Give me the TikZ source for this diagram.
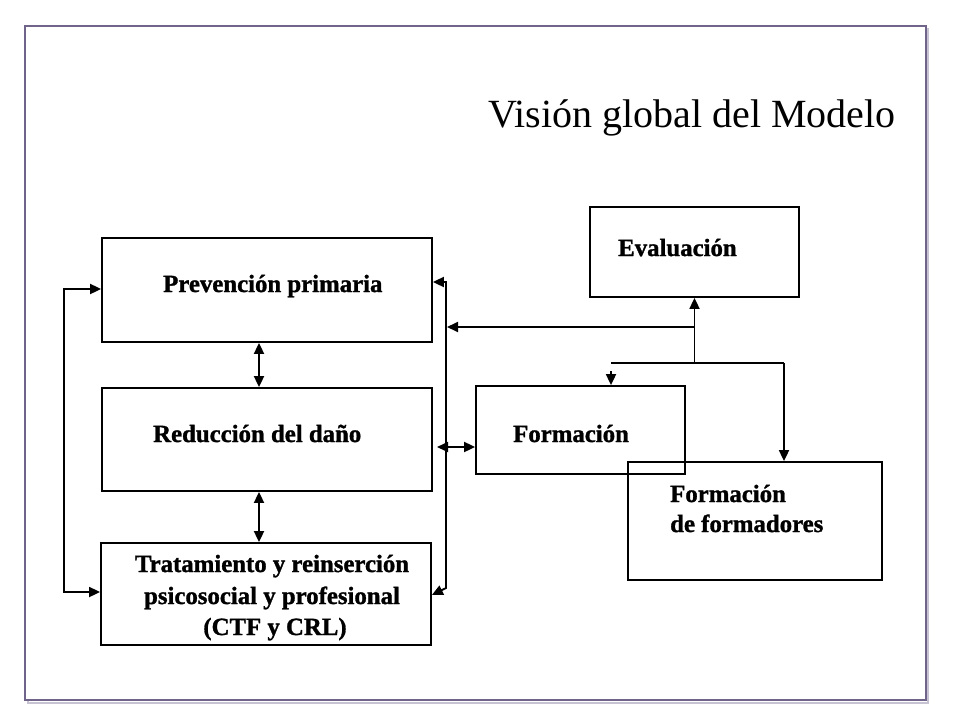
\documentclass[tikz,border=0pt]{standalone}
\usepackage{fontspec}
\setmainfont[BoldFeatures={FakeBold=1.2}]{Liberation Serif}
\usetikzlibrary{arrows.meta}
\definecolor{framecol}{RGB}{112,100,138}
\definecolor{shadowcol}{RGB}{200,195,210}
\tikzset{
  boxnode/.style={draw=black, line width=1.8pt, inner sep=0pt, minimum width=#1},
  lbl/.style={font=\fontsize{24.8}{30}\selectfont\bfseries, inner sep=0pt},
  conn/.style={line width=1.8pt, black, arrows={-Triangle[length=11pt,width=10pt]}},
  dconn/.style={line width=1.8pt, black, arrows={Triangle[length=11pt,width=10pt]-Triangle[length=11pt,width=10pt]}},
  plain/.style={line width=1.8pt, black}
}
\begin{document}
\begin{tikzpicture}[x=1pt,y=-1pt]
\useasboundingbox (0,0) rectangle (960,720);
% frame
\draw[shadowcol, line width=2.5pt] (28,29) rectangle (928,703);
\draw[framecol, line width=1.4pt, fill=white] (25,26) rectangle (926,700);
% title
\node[anchor=base west, inner sep=0pt, font=\fontsize{40}{48}\selectfont] (title) at (488,127) {Visión global del Modelo};
% boxes
\node[boxnode=330pt, minimum height=104pt] (pp) at (267,290) {};
\node[boxnode=330pt, minimum height=103pt] (rd) at (267,439.5) {};
\node[boxnode=330pt, minimum height=102pt] (tr) at (266,594) {};
\node[boxnode=209pt, minimum height=90pt] (ev) at (694.5,252) {};
\node[boxnode=209pt, minimum height=88pt] (fo) at (580.5,430) {};
\node[boxnode=254pt, minimum height=118pt] (ff) at (755,521) {};
% labels
\node[lbl, anchor=base west] (tpp) at (163,292) {Prevención primaria};
\node[lbl, anchor=base west] (trd) at (153,442) {Reducción del daño};
\node[lbl, anchor=base] (ttr1) at (272,572) {Tratamiento y reinserción};
\node[lbl, anchor=base] (ttr2) at (272,604) {psicosocial y profesional};
\node[lbl, anchor=base] (ttr3) at (275,635) {(CTF y CRL)};
\node[lbl, anchor=base west] (tev) at (618,256) {Evaluación};
\node[lbl, anchor=base west] (tfo) at (513,442) {Formación};
\node[lbl, anchor=base west] (tff1) at (670,502) {Formación};
\node[lbl, anchor=base west] (tff2) at (670,532) {de formadores};
% coordinates
\coordinate (L) at (64,289);
\coordinate (R1) at (446,282);
\coordinate (R2) at (446,588);
\coordinate (R3) at (447,327);
\coordinate (R4) at (437,447);
\coordinate (J1) at (694.5,327);
\coordinate (J2) at (694.5,363);
\coordinate (K1) at (611,363);
\coordinate (K2) at (784,363);
\coordinate (K3) at (611,371);
% vertical double arrows
\draw[dconn] ([xshift=-8pt]pp.south) -- ([xshift=-8pt]rd.north);
\draw[dconn] ([xshift=-8pt]rd.south) -- ([xshift=-7pt]tr.north);
% left loop
\draw[dconn] (pp.west |- L) -- (L) |- ([yshift=2pt]tr.west);
% right line
\draw[dconn] (pp.east |- R1) -- (R1) -- (R2) -- ([yshift=-1pt]tr.east);
% evaluation connections
\draw[conn] (J2) -- (ev.south);
\draw[conn] (J1) -- (R3);
\draw[plain] (K1) -- (K2);
\draw[conn] (K2) -- (K2 |- ff.north);
\draw[conn] (K3) -- (K3 |- fo.north);
% reduccion - formacion
\draw[dconn] (R4) -- (R4 -| fo.west);
\end{tikzpicture}
\end{document}
